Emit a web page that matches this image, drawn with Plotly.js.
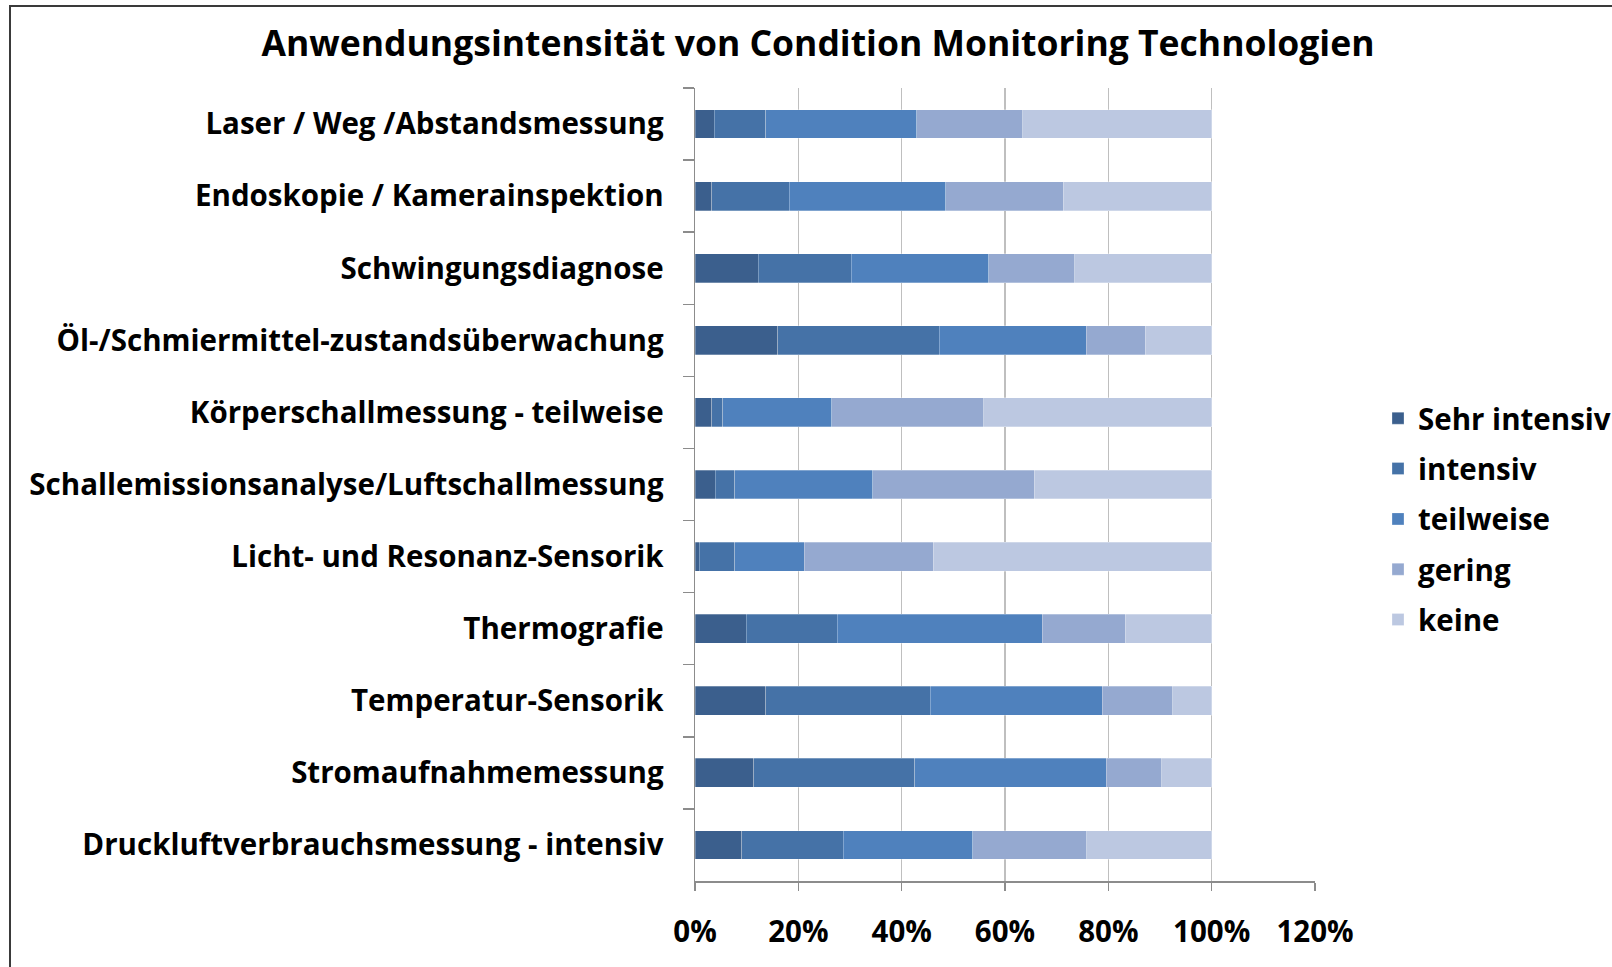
<!DOCTYPE html>
<html>
<head>
<meta charset="utf-8">
<script src="https://cdn.plot.ly/plotly-3.0.1.min.js"></script>
<style>html,body{margin:0;padding:0;background:#fff;}#chart{width:1612px;height:967px;}</style>
</head>
<body>
<div id="chart"></div>
<script>
const categories = [
  "Laser / Weg /Abstandsmessung",
  "Endoskopie / Kamerainspektion",
  "Schwingungsdiagnose",
  "Öl-/Schmiermittel-zustandsüberwachung",
  "Körperschallmessung - teilweise",
  "Schallemissionsanalyse/Luftschallmessung",
  "Licht- und Resonanz-Sensorik",
  "Thermografie",
  "Temperatur-Sensorik",
  "Stromaufnahmemessung",
  "Druckluftverbrauchsmessung - intensiv"
];
const seriesNames = ["Sehr intensiv", "intensiv", "teilweise", "gering", "keine"];
const sehrIntensiv = [3.7, 3.2, 12.2, 16.0, 3.2, 3.9, 0.8, 9.9, 13.7, 11.4, 9.0];
const intensiv     = [10.0, 15.0, 18.0, 31.3, 2.2, 3.8, 6.9, 17.6, 31.8, 31.1, 19.7];
const teilweise    = [29.2, 30.3, 26.7, 28.4, 21.1, 26.7, 13.4, 39.7, 33.3, 37.1, 25.1];
const gering       = [20.5, 22.8, 16.6, 11.4, 29.4, 31.3, 25.0, 16.1, 13.7, 10.7, 22.0];
const keine        = [36.6, 28.7, 26.5, 12.9, 44.1, 34.3, 53.9, 16.7, 7.5, 9.7, 24.2];
const xTickVals = [0, 0.2, 0.4, 0.6, 0.8, 1.0, 1.2];
const xTickText = ["0%", "20%", "40%", "60%", "80%", "100%", "120%"];

const colors = ["#3b5f8d", "#4572a7", "#4f81bd", "#95a9d0", "#bcc8e1"];
const allSeries = [sehrIntensiv, intensiv, teilweise, gering, keine];
const FONT = "'Open Sans', 'Noto Sans', sans-serif";

const traces = allSeries.map((vals, i) => ({
  type: "bar",
  orientation: "h",
  name: seriesNames[i],
  legendgroup: seriesNames[i],
  y: categories,
  x: vals.map(v => v / 100),
  marker: {color: colors[i], line: {color: "rgba(255,255,255,0.35)", width: 0.8}},
  hoverinfo: "skip"
}));

const pl = 695, pr = 1315, pt = 88, pb = 881;
const pw = pr - pl, ph = pb - pt;
const px = x => (x - pl) / pw;
const py = y => (pb - y) / ph;

const layout = {
  width: 1612, height: 967,
  paper_bgcolor: "#ffffff", plot_bgcolor: "#ffffff",
  margin: {l: pl, r: 1612 - pr, t: pt, b: 967 - pb, pad: 0, autoexpand: false},
  barmode: "stack",
  bargap: 0.6,
  font: {family: FONT, color: "#000000", size: 29.5, weight: "bold"},
  title: {
    text: "Anwendungsintensität von Condition Monitoring Technologien",
    font: {family: FONT, size: 35.5, color: "#000000", weight: "bold"},
    xref: "container", yref: "container",
    x: 818 / 1612, xanchor: "center",
    y: 1 - 44 / 967, yanchor: "middle"
  },
  xaxis: {
    range: [0, 1.2],
    tickvals: xTickVals, ticktext: xTickText,
    showgrid: true, gridcolor: "#bfbfbf", gridwidth: 1.5,
    zeroline: false,
    showline: true, linecolor: "#8c8c8c", linewidth: 1.5,
    ticks: "outside", ticklen: 8, tickcolor: "#8c8c8c", tickwidth: 1.5,
    ticklabelstandoff: 16,
    tickfont: {family: FONT, size: 29.5, color: "#000", weight: "bold"},
    fixedrange: true, automargin: false
  },
  yaxis: {
    autorange: "reversed",
    type: "category",
    showgrid: false, zeroline: false,
    showline: true, linecolor: "#8c8c8c", linewidth: 1.5,
    ticks: "outside", tickson: "boundaries", ticklen: 11, tickcolor: "#8c8c8c", tickwidth: 1.5,
    ticklabelstandoff: 24,
    tickfont: {family: FONT, size: 29.5, color: "#000", weight: "bold"},
    fixedrange: true, automargin: false
  },
  showlegend: true,
  legend: {
    xref: "container", yref: "container",
    x: 1378 / 1612, xanchor: "left",
    y: 1 - 519 / 967, yanchor: "middle",
    traceorder: "grouped",
    tracegroupgap: 9,
    font: {family: FONT, size: 29.5, color: "#000", weight: "bold"},
    bgcolor: "rgba(0,0,0,0)",
    itemclick: false, itemdoubleclick: false
  },
  shapes: [{
    type: "rect", xref: "paper", yref: "paper",
    x0: px(10), x1: px(1640), y0: py(1000), y1: py(6),
    line: {color: "#3a3a3a", width: 2}, fillcolor: "rgba(0,0,0,0)", layer: "above"
  }]
};

Plotly.newPlot("chart", traces, layout, {displayModeBar: false, staticPlot: true});
</script>
</body>
</html>
